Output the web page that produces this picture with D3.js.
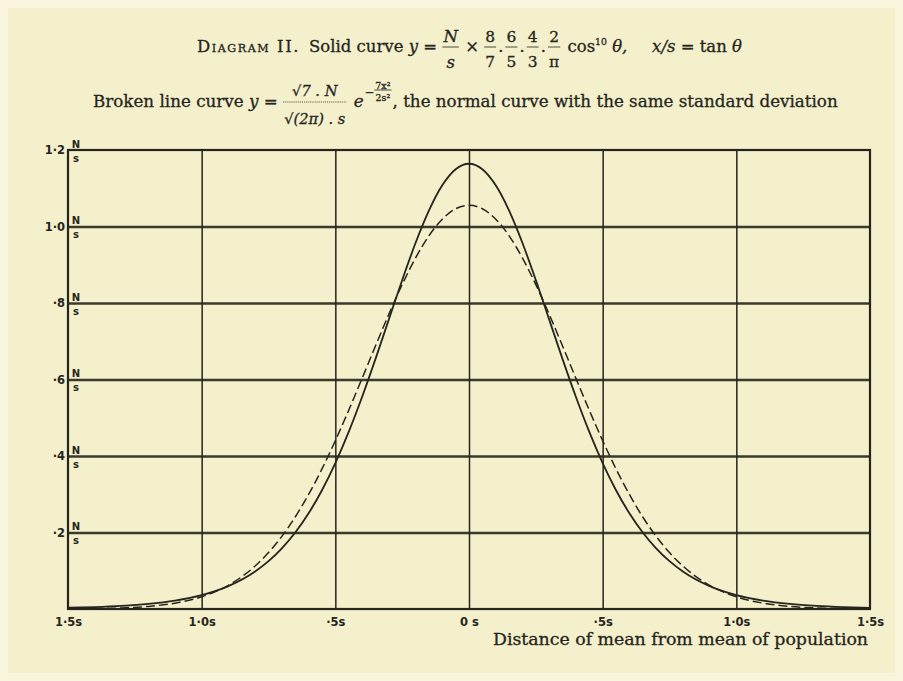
<!DOCTYPE html>
<html>
<head>
<meta charset="utf-8">
<script src="https://cdn.jsdelivr.net/npm/d3@7"></script>
<style>
  body { margin: 0; background: #f4f0cc; }
  svg { display: block; }
</style>
</head>
<body>
<svg id="chart"></svg>
<script>
// distance from the mean, in units of s
const xs = [-1.5, -1.4, -1.3, -1.2, -1.1, -1.0, -0.9, -0.8,
            -0.75, -0.7, -0.65, -0.6, -0.55, -0.5, -0.45, -0.4, -0.35, -0.3, -0.25, -0.2, -0.15, -0.1, -0.05,
            0,
            0.05, 0.1, 0.15, 0.2, 0.25, 0.3, 0.35, 0.4, 0.45, 0.5, 0.55, 0.6, 0.65, 0.7, 0.75,
            0.8, 0.9, 1.0, 1.1, 1.2, 1.3, 1.4, 1.5];
// solid curve (cos^10 theta), in units of N/s
const solidVals = [0.0032, 0.0051, 0.0083, 0.0135, 0.0221, 0.0364, 0.0599, 0.0981,
                   0.1250, 0.1585, 0.1999, 0.2502, 0.3105, 0.3815, 0.4630, 0.5542, 0.6532, 0.7566, 0.8597, 0.9568, 1.0415, 1.1076, 1.1497,
                   1.1641,
                   1.1497, 1.1076, 1.0415, 0.9568, 0.8597, 0.7566, 0.6532, 0.5542, 0.4630, 0.3815, 0.3105, 0.2502, 0.1999, 0.1585, 0.1250,
                   0.0981, 0.0599, 0.0364, 0.0221, 0.0135, 0.0083, 0.0051, 0.0032];
// broken line curve (normal curve, same s.d.)
const brokenVals = [0.0004, 0.0011, 0.0028, 0.0068, 0.0153, 0.0319, 0.0620, 0.1124,
                    0.1474, 0.1899, 0.2405, 0.2994, 0.3662, 0.4400, 0.5196, 0.6029, 0.6874, 0.7703, 0.8481, 0.9176, 0.9756, 1.0192, 1.0463,
                    1.0555,
                    1.0463, 1.0192, 0.9756, 0.9176, 0.8481, 0.7703, 0.6874, 0.6029, 0.5196, 0.4400, 0.3662, 0.2994, 0.2405, 0.1899, 0.1474,
                    0.1124, 0.0620, 0.0319, 0.0153, 0.0068, 0.0028, 0.0011, 0.0004];

const xTicks = [-1.5, -1, -0.5, 0, 0.5, 1, 1.5];
const xTickLabels = ["1·5s", "1·0s", "·5s", "0 s", "·5s", "1·0s", "1·5s"];
const yTicks = [0.2, 0.4, 0.6, 0.8, 1.0, 1.2];
const yTickLabels = ["·2", "·4", "·6", "·8", "1·0", "1·2"];

const W = 903, H = 681;
const ink = "#26251d";
const serif = "'DejaVu Serif', 'Liberation Serif', serif";
const sans = "'DejaVu Sans', 'Liberation Sans', sans-serif";
const NB = "\u00A0";

const svg = d3.select("#chart").attr("width", W).attr("height", H);
svg.append("rect").attr("width", W).attr("height", H).attr("fill", "#f8f5dc");
svg.append("rect").attr("x", 8).attr("y", 8).attr("width", W - 16).attr("height", H - 16).attr("fill", "#f4f0cc");

const plotL = 68, plotR = 870, plotT = 150, plotB = 609;
const x = d3.scaleLinear().domain([-1.5, 1.5]).range([plotL, plotR]);
const y = d3.scaleLinear().domain([0, 1.2]).range([plotB, plotT]);

// grid lines
svg.append("g")
    .attr("transform", `translate(0,${plotB})`)
    .call(d3.axisBottom(x).tickValues(xTicks.slice(1, -1)).tickSize(-(plotB - plotT)).tickFormat(""))
    .call(g => g.select(".domain").remove())
    .call(g => g.selectAll(".tick line").attr("stroke", ink).attr("stroke-width", 1.5));

svg.append("g")
    .attr("transform", `translate(${plotL},0)`)
    .call(d3.axisLeft(y).tickValues(yTicks.slice(0, -1)).tickSize(-(plotR - plotL)).tickFormat(""))
    .call(g => g.select(".domain").remove())
    .call(g => g.selectAll(".tick line").attr("stroke", ink).attr("stroke-width", 2.4).attr("opacity", 0.9));

// frame
svg.append("rect")
    .attr("x", plotL).attr("y", plotT).attr("width", plotR - plotL).attr("height", plotB - plotT)
    .attr("fill", "none").attr("stroke", ink).attr("stroke-width", 2.2);

// x tick labels
svg.append("g")
    .attr("transform", `translate(0,${plotB})`)
    .call(d3.axisBottom(x).tickValues(xTicks).tickSize(0).tickPadding(9)
        .tickFormat((d, i) => xTickLabels[i]))
    .call(g => g.select(".domain").remove())
    .call(g => g.selectAll("text").attr("fill", ink).attr("font-family", sans)
        .attr("font-size", 11.5).attr("font-weight", "bold"));

// y tick labels, each with N over s
const yAx = svg.append("g")
    .attr("transform", `translate(${plotL},0)`)
    .call(d3.axisLeft(y).tickValues(yTicks).tickSize(0).tickPadding(3)
        .tickFormat((d, i) => yTickLabels[i]))
    .call(g => g.select(".domain").remove())
    .call(g => g.selectAll("text").attr("fill", ink).attr("font-family", sans)
        .attr("font-size", 11.5).attr("font-weight", "bold"));
yAx.selectAll(".tick").append("text")
    .attr("x", 8).attr("y", -3).attr("text-anchor", "middle")
    .attr("fill", ink).attr("font-family", sans).attr("font-size", 10).attr("font-weight", "bold")
    .text("N");
yAx.selectAll(".tick").append("text")
    .attr("x", 8).attr("y", 11).attr("text-anchor", "middle")
    .attr("fill", ink).attr("font-family", sans).attr("font-size", 10).attr("font-weight", "bold")
    .text("s");

// curves
const pts = v => xs.map((d, i) => [d, v[i]]);
const line = d3.line().x(d => x(d[0])).y(d => y(d[1])).curve(d3.curveMonotoneX);

svg.append("path").datum(pts(brokenVals))
    .attr("d", line).attr("fill", "none").attr("stroke", ink)
    .attr("stroke-width", 1.5).attr("stroke-dasharray", "9,4");
svg.append("path").datum(pts(solidVals))
    .attr("d", line).attr("fill", "none").attr("stroke", ink).attr("stroke-width", 1.8);

// x axis title
svg.append("text")
    .attr("x", 868).attr("y", 645).attr("text-anchor", "end")
    .attr("fill", ink).attr("stroke", ink).attr("stroke-width", 0.3)
    .attr("font-family", serif).attr("font-size", 16)
    .attr("textLength", 375).attr("lengthAdjust", "spacingAndGlyphs")
    .text("Distance of mean from mean of population");

// title lines, built piece by piece and fitted to their width
function mathLine(yBase, x0, x1, build) {
    const g = svg.append("g").attr("fill", ink).attr("stroke", ink).attr("stroke-width", 0.3)
        .attr("font-family", serif);
    let cx = 0;
    const api = {
        t(str, o = {}) {
            const el = g.append("text").attr("x", cx).attr("y", o.dy || 0)
                .attr("font-size", o.size || 16)
                .attr("font-style", o.italic ? "italic" : null)
                .attr("letter-spacing", o.ls || null)
                .style("font-variant", o.caps ? "small-caps" : null)
                .text(str.replace(/ /g, NB));
            cx += el.node().getComputedTextLength() + (o.gap || 0);
            return api;
        },
        frac(num, den, o = {}) {
            const size = o.size || 14, raise = o.raise || 0;
            const a = g.append("text").attr("y", -9 - raise + (o.numDy || 0)).attr("font-size", size)
                .attr("font-style", o.italic ? "italic" : null).attr("text-anchor", "middle")
                .text(num.replace(/ /g, NB));
            const b = g.append("text").attr("y", size - 1 - raise + (o.denDy || 0)).attr("font-size", size)
                .attr("font-style", o.italic ? "italic" : null).attr("text-anchor", "middle")
                .text(den.replace(/ /g, NB));
            const w = Math.max(a.node().getComputedTextLength(), b.node().getComputedTextLength()) + 2;
            a.attr("x", cx + w / 2);
            b.attr("x", cx + w / 2);
            g.append("line").attr("x1", cx).attr("x2", cx + w)
                .attr("y1", -5 - raise).attr("y2", -5 - raise)
                .attr("stroke", ink).attr("stroke-width", 0.8).attr("stroke-dasharray", o.dotted ? "1,1" : null);
            cx += w + (o.gap || 1);
            return api;
        },
        sp(n) { cx += n; return api; }
    };
    build(api);
    g.attr("transform", `translate(${x0},${yBase}) scale(${(x1 - x0) / cx},1)`);
}

const fr = {size: 15, numDy: -1, denDy: 1, gap: 2};
mathLine(52, 197, 742, m => m
    .t("Diagram II.", {caps: true, ls: 1.5}).sp(8)
    .t("Solid curve ").t("y", {italic: true}).t(" = ")
    .frac("N", "s", {italic: true, size: 16, numDy: -1, denDy: 1}).t(" × ")
    .frac("8", "7", fr).t(".", {gap: 2})
    .frac("6", "5", fr).t(".", {gap: 2})
    .frac("4", "3", fr).t(".", {gap: 2})
    .frac("2", "π", fr).sp(5)
    .t("cos").t("10", {size: 9, dy: -7}).t(" θ,", {italic: true}).sp(24)
    .t("x/s", {italic: true}).t(" = tan ").t("θ", {italic: true}));

mathLine(107, 93, 838, m => m
    .t("Broken line curve ").t("y", {italic: true}).t(" = ")
    .frac("√7 . N", "√(2π) . s", {italic: true, size: 14, dotted: true, numDy: -2, denDy: 4}).sp(6)
    .t("e", {italic: true}).sp(1)
    .t("−", {size: 11, dy: -11})
    .frac("7x²", "2s²", {size: 9, raise: 12, numDy: 3, denDy: -2})
    .t(", the normal curve with the same standard deviation"));
</script>
</body>
</html>
